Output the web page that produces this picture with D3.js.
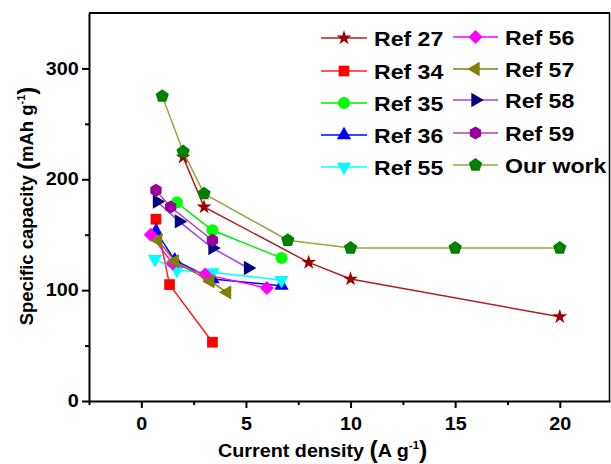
<!DOCTYPE html>
<html>
<head>
<meta charset="utf-8">
<script src="https://cdn.jsdelivr.net/npm/d3@7"></script>
<style>
  body { margin: 0; background: #fff; }
  text { font-family: "Liberation Sans", Arial, sans-serif; font-weight: bold; fill: #000; }
</style>
</head>
<body>
<svg id="chart" width="611" height="464"></svg>
<script>
// each point is [current density (A/g), specific capacity (mAh/g)]
const ref27 = [[2, 220], [3, 175], [8, 125], [10, 110], [20, 76]];
const ref34 = [[0.7, 164], [1.35, 105], [3.4, 53]];
const ref35 = [[1.7, 179], [3.4, 154], [6.7, 129]];
const ref36 = [[0.7, 153], [1.6, 127], [3.4, 110], [6.7, 104]];
const ref55 = [[0.65, 128], [1.7, 118], [3.4, 116], [6.7, 109]];
const ref56 = [[0.45, 150], [1.5, 124], [3.05, 114], [6, 102]];
const ref57 = [[0.8, 145], [1.6, 126], [3.3, 108], [4.1, 98]];
const ref58 = [[0.75, 180], [1.8, 162], [3.4, 138], [5.1, 120]];
const ref59 = [[0.7, 190], [1.4, 175], [3.4, 145]];
const ourWork = [[1, 275], [2, 225], [3, 187], [7, 145], [10, 138], [15, 138], [20, 138]];

const seriesNames = ["Ref 27", "Ref 34", "Ref 35", "Ref 36", "Ref 55",
                     "Ref 56", "Ref 57", "Ref 58", "Ref 59", "Our work"];
const seriesData = [ref27, ref34, ref35, ref36, ref55, ref56, ref57, ref58, ref59, ourWork];

const xTicks = [0, 5, 10, 15, 20];
const xMinor = [-2.5, 2.5, 7.5, 12.5, 17.5];
const yTicks = [0, 100, 200, 300];
const yMinor = [50, 150, 250];

// regular polygon symbol (pentagon, hexagon)
function polygon(n) {
  return {
    draw(ctx, size) {
      const r = Math.sqrt(size / (n / 2 * Math.sin(2 * Math.PI / n)));
      for (let i = 0; i < n; i++) {
        const a = -Math.PI / 2 + i * 2 * Math.PI / n;
        if (i === 0) ctx.moveTo(r * Math.cos(a), r * Math.sin(a));
        else ctx.lineTo(r * Math.cos(a), r * Math.sin(a));
      }
      ctx.closePath();
    }
  };
}

const styles = [
  { line: "#b02020", fill: "#990000", sym: d3.symbolStar, size: 68, rot: 0 },
  { line: "#ff2020", fill: "#ff0000", sym: d3.symbolSquare, size: 115, rot: 0 },
  { line: "#00ee00", fill: "#00ff00", sym: d3.symbolCircle, size: 115, rot: 0 },
  { line: "#0000ff", fill: "#0000ff", sym: d3.symbolTriangle, size: 90, rot: 0 },
  { line: "#00ffff", fill: "#00ffff", sym: d3.symbolTriangle, size: 90, rot: 180 },
  { line: "#ff00ff", fill: "#ff00ff", sym: d3.symbolSquare, size: 98, rot: 45 },
  { line: "#808000", fill: "#808000", sym: d3.symbolTriangle, size: 90, rot: -90 },
  { line: "#a040ff", fill: "#000080", sym: d3.symbolTriangle, size: 90, rot: 90 },
  { line: "#b040b0", fill: "#990099", sym: polygon(6), size: 110, rot: 0 },
  { line: "#a0a040", fill: "#008000", sym: polygon(5), size: 116, rot: 0 }
];

const svg = d3.select("#chart");
svg.append("rect").attr("width", 611).attr("height", 464).attr("fill", "#fff");

const plotLeft = 89, plotRight = 610, plotTop = 13, plotBottom = 401;

const x = d3.scaleLinear().domain([-2.5, 22.4]).range([plotLeft, plotRight]);
const y = d3.scaleLinear().domain([0, 350]).range([plotBottom, plotTop]);

// frame top/right
svg.append("line").attr("x1", plotLeft).attr("x2", plotRight).attr("y1", plotTop).attr("y2", plotTop)
  .attr("stroke", "#000").attr("stroke-width", 2);
svg.append("line").attr("x1", plotRight - 0.5).attr("x2", plotRight - 0.5).attr("y1", plotTop).attr("y2", plotBottom)
  .attr("stroke", "#000").attr("stroke-width", 1.5);

// minor ticks
svg.append("g").attr("transform", `translate(0,${plotBottom})`)
  .call(d3.axisBottom(x).tickValues(xMinor).tickSize(4).tickFormat(""))
  .call(g => g.select(".domain").remove())
  .selectAll("line").attr("stroke-width", 2);
svg.append("g").attr("transform", `translate(${plotLeft},0)`)
  .call(d3.axisLeft(y).tickValues(yMinor).tickSize(4).tickFormat(""))
  .call(g => g.select(".domain").remove())
  .selectAll("line").attr("stroke-width", 2);

// major axes
const xAxis = svg.append("g").attr("transform", `translate(0,${plotBottom})`)
  .call(d3.axisBottom(x).tickValues(xTicks).tickSize(7).tickSizeOuter(0).tickPadding(10));
const yAxis = svg.append("g").attr("transform", `translate(${plotLeft},0)`)
  .call(d3.axisLeft(y).tickValues(yTicks).tickSize(7).tickSizeOuter(0).tickPadding(2));

[xAxis, yAxis].forEach(a => {
  a.select(".domain").attr("stroke-width", 2);
  a.selectAll("line").attr("stroke-width", 2);
  a.selectAll("text").attr("font-size", 17.5).attr("font-family", null)
    .attr("transform", "scale(1.13,1)");
});

// series lines and markers
const line = d3.line().x(d => x(d[0])).y(d => y(d[1]));
seriesData.forEach((data, i) => {
  const s = styles[i];
  const g = svg.append("g");
  g.append("path").attr("d", line(data)).attr("fill", "none")
    .attr("stroke", s.line).attr("stroke-width", 1.5);
  g.selectAll("path.m").data(data).join("path").attr("class", "m")
    .attr("d", d3.symbol(s.sym, s.size))
    .attr("transform", d => `translate(${x(d[0])},${y(d[1])}) rotate(${s.rot})`)
    .attr("fill", s.fill);
});

// legend
const legCols = [
  { x0: 321, x1: 367, tx: 374, rows: [38, 71, 103, 135, 167] },
  { x0: 453, x1: 498, tx: 505, rows: [37, 69, 100, 133, 165] }
];
seriesNames.forEach((name, i) => {
  const c = legCols[Math.floor(i / 5)], ry = c.rows[i % 5], s = styles[i];
  const g = svg.append("g");
  g.append("line").attr("x1", c.x0).attr("x2", c.x1).attr("y1", ry).attr("y2", ry)
    .attr("stroke", s.line).attr("stroke-width", 1.5);
  g.append("path").attr("d", d3.symbol(s.sym, s.size)())
    .attr("transform", `translate(${(c.x0 + c.x1) / 2},${ry}) rotate(${s.rot})`)
    .attr("fill", s.fill);
  g.append("text").attr("transform", `translate(${c.tx},${ry + 7.5}) scale(1.1,1)`)
    .attr("font-size", 21).text(name);
});

// axis titles
const xt = svg.append("text").attr("transform", "translate(218,457) scale(1.04,1)")
  .attr("font-size", 19);
xt.append("tspan").text("Current density ");
xt.append("tspan").attr("font-size", 24).attr("dy", 1).text("(");
xt.append("tspan").attr("dy", -1).text("A g");
xt.append("tspan").attr("font-size", 11).attr("dy", -8).text("-1");
xt.append("tspan").attr("font-size", 24).attr("dy", 9).text(")");

const yt = svg.append("text").attr("transform", "translate(33,206) rotate(-90)")
  .attr("text-anchor", "middle").attr("font-size", 18.5);
yt.append("tspan").text("Specific capacity ");
yt.append("tspan").attr("font-size", 24).attr("dy", 2).text("(");
yt.append("tspan").attr("dy", -2).text("mAh g");
yt.append("tspan").attr("font-size", 11).attr("dy", -8).text("-1");
yt.append("tspan").attr("font-size", 24).attr("dy", 10).text(")");
</script>
</body>
</html>
